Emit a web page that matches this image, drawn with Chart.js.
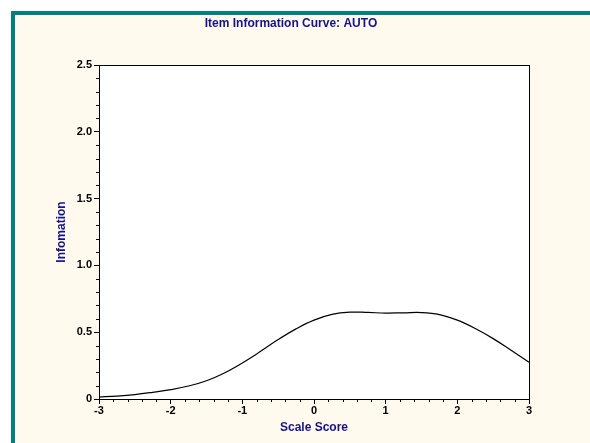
<!DOCTYPE html>
<html>
<head>
<meta charset="utf-8">
<title>Item Information Curve: AUTO</title>
<script src="https://cdn.jsdelivr.net/npm/chart.js@4.4.1/dist/chart.umd.min.js"></script>
<style>
    html, body { margin: 0; padding: 0; background: #ffffff; }
    canvas { display: block; }
</style>
</head>
<body>
<canvas id="infoChart" width="590" height="443"></canvas>
<script>
// theta values and item information
const scaleScores = [-3, -2.75, -2.5, -2.25, -2, -1.75, -1.5, -1.25, -1, -0.75, -0.5, -0.25,
    0, 0.25, 0.5, 0.75, 1, 1.25, 1.5, 1.75, 2, 2.25, 2.5, 2.75, 3];
const information = [0.015, 0.022, 0.033, 0.05, 0.07, 0.097, 0.137, 0.195, 0.27, 0.355, 0.445, 0.525,
    0.59, 0.633, 0.65, 0.648, 0.643, 0.645, 0.647, 0.632, 0.59, 0.528, 0.452, 0.365, 0.276];

const titleText = 'Item Information Curve: AUTO';
const xAxisTitle = 'Scale Score';
const yAxisTitle = 'Infomation';

const navy = '#14148a';
const labelFont = { family: 'Arial, "Liberation Sans", sans-serif', size: 11, weight: 'bold' };
const axisTitleFont = { family: 'Arial, "Liberation Sans", sans-serif', size: 12, weight: 'bold' };

// cream panel with teal frame, white plot box, title
const framePlugin = {
    id: 'frame',
    beforeDraw(chart) {
        const { ctx, width, height, chartArea: a } = chart;
        ctx.save();
        ctx.fillStyle = '#ffffff';
        ctx.fillRect(0, 0, width, height);
        ctx.fillStyle = '#008080';
        ctx.fillRect(11, 11, width - 11, height - 11);
        ctx.fillStyle = '#fff9ee';
        ctx.fillRect(15, 15, width - 15, height - 15);
        ctx.fillStyle = '#ffffff';
        ctx.fillRect(a.left, a.top, a.right - a.left, a.bottom - a.top);

        ctx.fillStyle = navy;
        ctx.font = 'bold 12px Arial, "Liberation Sans", sans-serif';
        ctx.textAlign = 'center';
        ctx.textBaseline = 'alphabetic';
        ctx.fillText(titleText, 291, 27);
        ctx.restore();
    },
    afterDraw(chart) {
        const { ctx, chartArea: a, scales } = chart;
        ctx.save();
        ctx.strokeStyle = '#000000';
        ctx.lineWidth = 1;
        ctx.strokeRect(Math.round(a.left) + 0.5, Math.round(a.top) + 0.5,
            Math.round(a.right - a.left), Math.round(a.bottom - a.top));

        // minor ticks
        ctx.beginPath();
        const xs = scales.x, ys = scales.y;
        for (let i = 0; i <= 30; i++) {
            if (i % 5 === 0) continue;
            const px = Math.round(xs.getPixelForValue(-3 + i * 0.2)) + 0.5;
            ctx.moveTo(px, a.bottom);
            ctx.lineTo(px, a.bottom + 3);
        }
        for (let i = 0; i <= 25; i++) {
            if (i % 5 === 0) continue;
            const py = Math.round(ys.getPixelForValue(i * 0.1)) + 0.5;
            ctx.moveTo(a.left, py);
            ctx.lineTo(a.left - 3, py);
        }
        ctx.stroke();
        ctx.restore();
    }
};

new Chart(document.getElementById('infoChart'), {
    type: 'line',
    data: {
        datasets: [{
            data: scaleScores.map((x, i) => ({ x, y: information[i] })),
            borderColor: '#000000',
            borderWidth: 1.2,
            pointRadius: 0,
            fill: false,
            tension: 0.4
        }]
    },
    options: {
        responsive: false,
        animation: false,
        layout: { padding: { left: 0, right: 61, top: 65, bottom: 0 } },
        plugins: {
            legend: { display: false },
            tooltip: { enabled: false }
        },
        scales: {
            x: {
                type: 'linear',
                min: -3,
                max: 3,
                afterFit(scale) { scale.height = 44; },
                border: { color: '#000000', width: 1 },
                grid: { drawOnChartArea: false, tickLength: 5, color: '#000000' },
                ticks: {
                    stepSize: 1,
                    color: '#000000',
                    font: labelFont,
                    padding: 0,
                    maxRotation: 0,
                    autoSkip: false,
                    callback: v => String(v)
                },
                title: {
                    display: true,
                    text: xAxisTitle,
                    color: navy,
                    font: axisTitleFont,
                    padding: { top: 0, bottom: 8 }
                }
            },
            y: {
                min: 0,
                max: 2.5,
                afterFit(scale) { scale.width = 99; },
                border: { color: '#000000', width: 1 },
                grid: { drawOnChartArea: false, tickLength: 5, color: '#000000' },
                ticks: {
                    stepSize: 0.5,
                    color: '#000000',
                    font: labelFont,
                    padding: 2,
                    autoSkip: false,
                    callback: v => (v === 0 ? '0' : v.toFixed(1))
                },
                title: {
                    display: true,
                    text: yAxisTitle,
                    color: navy,
                    font: axisTitleFont,
                    padding: { top: 54, bottom: 0 }
                }
            }
        }
    },
    plugins: [framePlugin]
});
</script>
</body>
</html>
